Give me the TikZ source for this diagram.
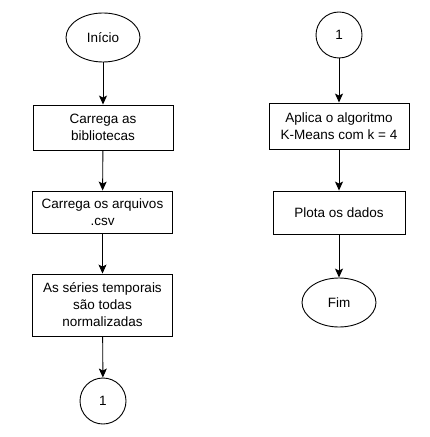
\documentclass[tikz,border=0pt]{standalone}
\usepackage{fontspec}
\setmainfont{Liberation Sans}
\usetikzlibrary{shapes.geometric,arrows.meta}
\begin{document}
\begin{tikzpicture}[x=1bp,y=-1bp,
  every node/.style={font=\fontsize{13.5bp}{17bp}\selectfont, inner sep=0pt, align=center},
  procbox/.style={draw, line width=0.9bp, minimum width=140bp, minimum height=#1},
  procbox/.default=45bp,
  term/.style={draw, ellipse, line width=0.9bp, minimum width=74bp, minimum height=49bp},
  conn/.style={draw, circle, line width=0.9bp, minimum size=46bp},
  flow/.style={draw, line width=0.9bp, -{Stealth[length=9bp,width=8bp,inset=2bp]}}]
\useasboundingbox (0,0) rectangle (429,437);
\node[term] (ini) at (103,37.5) {Início};
\node[procbox] (b1) at (103,127.5) {Carrega as\\bibliotecas};
\node[procbox=42bp] (b2) at (102.5,212) {Carrega os arquivos\\.csv};
\node[procbox=62bp] (b3) at (102.5,305) {As séries temporais\\são todas\\normalizadas};
\node[conn] (c1) at (103,401) {1};
\node[conn] (c2) at (339,35) {1};
\node[procbox=46bp] (b4) at (339,126) {Aplica o algoritmo\\K-Means com k = 4};
\node[procbox=43bp, minimum width=132bp] (b5) at (339,212.5) {Plota os dados};
\node[term] (fim) at (339,302.5) {Fim};
\draw[flow] (ini) -- (b1);
\draw[flow] (b1) -- (b2);
\draw[flow] (b2) -- (b3);
\draw[flow] (b3) -- (c1);
\draw[flow] (c2) -- (b4);
\draw[flow] (b4) -- (b5);
\draw[flow] (b5) -- (fim);
\end{tikzpicture}
\end{document}
